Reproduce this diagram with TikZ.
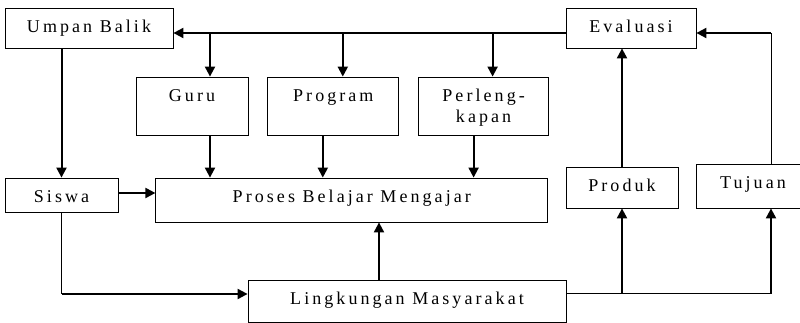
\documentclass[tikz,border=0pt]{standalone}
\usepackage{fontspec}
\setmainfont{Liberation Serif}
\newfontfamily\boxfont{Liberation Serif}[LetterSpace=17]
\usetikzlibrary{positioning, arrows.meta, calc}

\begin{document}
\begin{tikzpicture}[x=1pt, y=1pt, node distance=19pt]
  \tikzstyle{box}=[draw, line width=0.8pt, inner sep=0pt, align=center, text height=25pt, font=\fontsize{18}{21}\boxfont]
  \tikzstyle{flow}=[line width=2pt, -{Triangle[length=10pt, width=10pt]}]
  \tikzstyle{link}=[line width=1pt]
  \useasboundingbox (0,0) rectangle (800,323);

  \node[box, minimum width=168pt, text depth=15pt] (umpan) at (89,295) {Umpan Balik};
  \node[box, minimum width=130pt, text depth=15pt] (evaluasi) at (631,295) {Evaluasi};
  \node[box, minimum width=112pt, text depth=33pt] (guru) at (192,217) {Guru};
  \node[box, minimum width=131pt, text depth=33pt, right=of guru] (program) {Program};
  \node[box, minimum width=130pt, text height=46pt, text depth=12pt, right=of program] (perleng) {Perleng-\\kapan};
  \node[box, minimum width=113pt, text depth=9pt] (siswa) at (61.5,128) {Siswa};
  \node[box, minimum width=392pt, text depth=19pt, right=37pt of siswa.north east, anchor=north west] (pbm) {Proses Belajar Mengajar};
  \node[box, minimum width=318pt, text depth=17pt] (lingk) at (407,22) {Lingkungan Masyarakat};
  \node[box, minimum width=112pt, text depth=16pt] (produk) at (622,135.5) {Produk};
  \node[box, minimum width=114pt, text depth=19pt] (tujuan) at (753,137) {Tujuan};

  % feedback line along the top
  \coordinate (bus) at ([yshift=-5pt]evaluasi.west);
  \draw[flow] (bus) -- (bus -| umpan.east);
  \draw[flow] ([xshift=18pt]guru.north |- bus) -- ([xshift=18pt]guru.north);
  \draw[flow] ([xshift=9.5pt]program.north |- bus) -- ([xshift=9.5pt]program.north);
  \draw[flow] ([xshift=9pt]perleng.north |- bus) -- ([xshift=9pt]perleng.north);

  % inputs into the process
  \draw[flow] ([xshift=18pt]guru.south) -- ([xshift=18pt]guru.south |- pbm.north);
  \draw[flow] ([xshift=-10.5pt]program.south) -- ([xshift=-10.5pt]program.south |- pbm.north);
  \draw[flow] ([xshift=-10pt]perleng.south) -- ([xshift=-10pt]perleng.south |- pbm.north);
  \draw[flow] (umpan.south -| siswa.north) -- (siswa.north);
  \draw[flow] ([yshift=2pt]siswa.east) -- ([yshift=2pt]siswa.east -| pbm.west);

  % environment
  \coordinate (sl) at ([yshift=7pt]lingk.west -| siswa.south);
  \draw[link] (siswa.south) -- (sl);
  \draw[flow] (sl) -- (sl -| lingk.west);
  \draw[flow] ([xshift=-28pt]lingk.north) -- ([xshift=-28pt]lingk.north |- pbm.south);
  \coordinate (tu) at ([xshift=18pt]tujuan.south);
  \coordinate (lr) at ([yshift=7pt]lingk.east);
  \draw[link] (lr) -- (lr -| tu);
  \draw[flow] (lr -| produk.south) -- (produk.south);
  \draw[flow] (lr -| tu) -- (tu);

  % back to evaluation
  \draw[flow] (produk.north) -- (produk.north |- evaluasi.south);
  \draw[link] ([xshift=18pt]tujuan.north) -- ([xshift=18pt]tujuan.north |- bus);
  \draw[flow] ([xshift=18pt]tujuan.north |- bus) -- (bus -| evaluasi.east);
\end{tikzpicture}
\end{document}
